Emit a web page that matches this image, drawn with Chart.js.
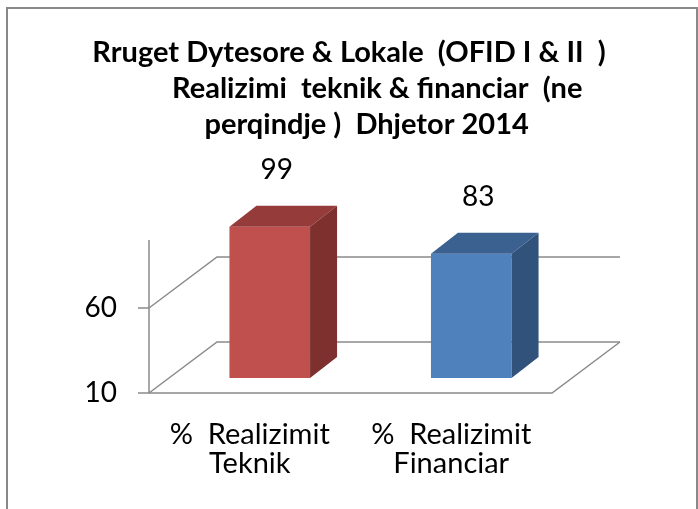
<!DOCTYPE html>
<html>
<head>
<meta charset="utf-8">
<script src="https://cdn.jsdelivr.net/npm/chart.js@4.4.0/dist/chart.umd.min.js"></script>
<style>
body { margin: 0; background: #fff; }
</style>
</head>
<body>
<canvas id="realizimi" width="698" height="509"></canvas>
<script>
var categories = [["%  Realizimit", "Teknik"], ["%  Realizimit", "Financiar"]];
var values = [99, 83];
var y_ticks = [10, 60];
var title_lines = [
    "Rruget Dytesore & Lokale  (OFID I & II  )",
    "        Realizimi  teknik & financiar  (ne",
    "     perqindje )  Dhjetor 2014"
];
var front_colors = ["#C0504D", "#4F81BD"];
var top_colors = ["#953B39", "#3B6190"];
var side_colors = ["#7D302E", "#31527B"];

// 3d offsets from the plane the bars stand on
var floor_front = {dx: -20, dy: 15};
var floor_back = {dx: 48, dy: -36};
var bar_depth = {dx: 27, dy: -21};
var grid_color = "#8a8a8a";

var box3d = {
    id: 'box3d',
    beforeDraw: function(chart){
        var ctx = chart.ctx;
        ctx.save();
        ctx.strokeStyle = "#898989";
        ctx.lineWidth = 2;
        ctx.strokeRect(7, 8, 690, 520);
        ctx.restore();
    },
    beforeDatasetsDraw: function(chart){
        var ctx = chart.ctx, area = chart.chartArea, y = chart.scales.y;
        var py0 = y.getPixelForValue(y.min);
        ctx.save();
        ctx.strokeStyle = grid_color;
        ctx.lineWidth = 1.5;
        y_ticks.forEach(function(v){
            var py = y.getPixelForValue(v);
            ctx.beginPath();
            ctx.moveTo(area.left + floor_front.dx, py + floor_front.dy);
            ctx.lineTo(area.left + floor_back.dx, py + floor_back.dy);
            ctx.lineTo(area.right + floor_back.dx, py + floor_back.dy);
            ctx.stroke();
            ctx.beginPath();
            ctx.moveTo(area.left + floor_front.dx - 11, py + floor_front.dy);
            ctx.lineTo(area.left + floor_front.dx, py + floor_front.dy);
            ctx.stroke();
        });
        // floor
        ctx.beginPath();
        ctx.moveTo(area.left + floor_front.dx, py0 + floor_front.dy);
        ctx.lineTo(area.right + floor_front.dx, py0 + floor_front.dy);
        ctx.lineTo(area.right + floor_back.dx, py0 + floor_back.dy);
        ctx.stroke();
        // value axis
        ctx.beginPath();
        ctx.moveTo(area.left + floor_front.dx, y.getPixelForValue(y.max) + floor_front.dy);
        ctx.lineTo(area.left + floor_front.dx, py0 + floor_front.dy);
        ctx.stroke();
        ctx.restore();
    },
    afterDatasetsDraw: function(chart){
        var ctx = chart.ctx, y = chart.scales.y;
        var meta = chart.getDatasetMeta(0);
        var b = y.getPixelForValue(y.min);
        ctx.save();
        meta.data.forEach(function(bar, i){
            var l = bar.x - bar.width / 2, r = bar.x + bar.width / 2;
            var t = bar.y;
            ctx.fillStyle = top_colors[i];
            ctx.beginPath();
            ctx.moveTo(l, t);
            ctx.lineTo(l + bar_depth.dx, t + bar_depth.dy);
            ctx.lineTo(r + bar_depth.dx, t + bar_depth.dy);
            ctx.lineTo(r, t);
            ctx.closePath();
            ctx.fill();
            ctx.fillStyle = side_colors[i];
            ctx.beginPath();
            ctx.moveTo(r, t);
            ctx.lineTo(r + bar_depth.dx, t + bar_depth.dy);
            ctx.lineTo(r + bar_depth.dx, b + bar_depth.dy);
            ctx.lineTo(r, b);
            ctx.closePath();
            ctx.fill();
            ctx.fillStyle = "#000";
            ctx.font = "28px Lato";
            ctx.textAlign = "center";
            ctx.textBaseline = "alphabetic";
            ctx.fillText(String(values[i]), bar.x + 7, t - 48);
        });
        ctx.restore();
    }
};

var chart1 = new Chart(document.getElementById("realizimi").getContext("2d"), {
    type: 'bar',
    data: {
        labels: categories,
        datasets: [{
            data: values,
            backgroundColor: front_colors,
            borderWidth: 0,
            barPercentage: 0.4,
            categoryPercentage: 1.0
        }]
    },
    options: {
        responsive: false,
        animation: false,
        layout: { padding: 0 },
        plugins: {
            legend: { display: false },
            tooltip: { enabled: false },
            title: {
                display: true,
                text: title_lines,
                color: "#000",
                font: { family: "Lato", weight: "bold", size: 29, lineHeight: 1.241 },
                padding: { top: 35, bottom: 82 }
            }
        },
        scales: {
            x: {
                grid: { display: false, drawTicks: false },
                border: { display: false },
                afterFit: function(s){ s.height = 131; },
                ticks: {
                    color: "#000",
                    font: { family: "Lato", size: 29, lineHeight: 1.0 },
                    padding: 42,
                    labelOffset: -20,
                    maxRotation: 0,
                    autoSkip: false
                }
            },
            y: {
                min: 10,
                max: 100,
                afterBuildTicks: function(s){
                    s.ticks = y_ticks.map(function(v){ return {value: v}; });
                },
                afterFit: function(s){ s.width = 169; },
                grid: { display: false, drawTicks: false },
                border: { display: false },
                ticks: {
                    color: "#000",
                    font: { family: "Lato", size: 28 },
                    padding: 52,
                    labelOffset: 15
                }
            },
            // empty strip on the right, room for the 3d back wall
            yRight: {
                position: 'right',
                grid: { display: false, drawTicks: false },
                border: { display: false },
                ticks: { display: false },
                afterFit: function(s){ s.width = 126; }
            }
        }
    },
    plugins: [box3d]
});
</script>
</body>
</html>
